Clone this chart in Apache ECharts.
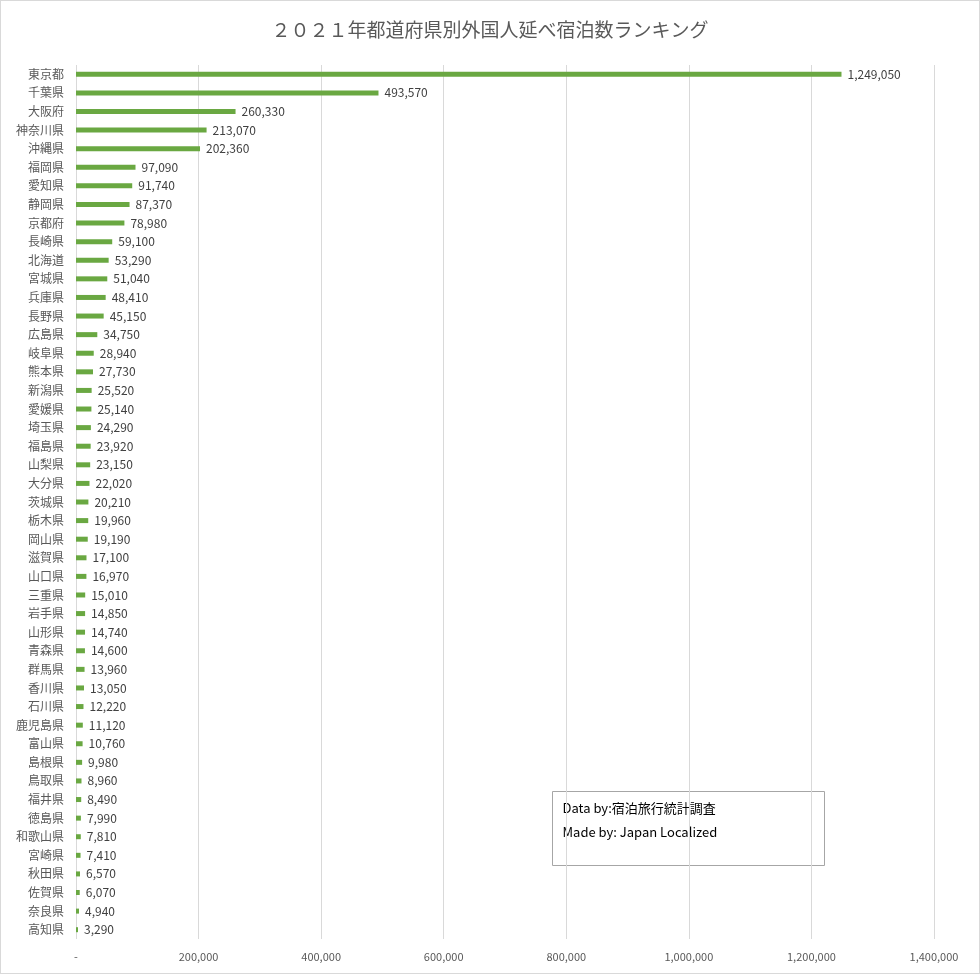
<!DOCTYPE html>
<html><head><meta charset="utf-8">
<script src="https://cdn.jsdelivr.net/npm/echarts@6/dist/echarts.min.js"></script>
<style>html,body{margin:0;padding:0;background:#fff}#c{width:980px;height:974px;box-sizing:border-box;border:1px solid #d9d9d9}</style>
</head><body><div id="c"></div>
<script>
const categories=["東京都","千葉県","大阪府","神奈川県","沖縄県","福岡県","愛知県","静岡県","京都府","長崎県","北海道","宮城県","兵庫県","長野県","広島県","岐阜県","熊本県","新潟県","愛媛県","埼玉県","福島県","山梨県","大分県","茨城県","栃木県","岡山県","滋賀県","山口県","三重県","岩手県","山形県","青森県","群馬県","香川県","石川県","鹿児島県","富山県","島根県","鳥取県","福井県","徳島県","和歌山県","宮崎県","秋田県","佐賀県","奈良県","高知県"];
const values=[1249050,493570,260330,213070,202360,97090,91740,87370,78980,59100,53290,51040,48410,45150,34750,28940,27730,25520,25140,24290,23920,23150,22020,20210,19960,19190,17100,16970,15010,14850,14740,14600,13960,13050,12220,11120,10760,9980,8960,8490,7990,7810,7410,6570,6070,4940,3290];
const titleText="２０２１年都道府県別外国人延べ宿泊数ランキング";
const noteLines=["Data by:宿泊旅行統計調査","Made by: Japan Localized"];
const font='"Noto Sans CJK JP","Noto Sans",sans-serif';
const ch=echarts.init(document.getElementById('c'));
ch.setOption({
  animation:false,
  title:{text:titleText,left:'center',top:14,textStyle:{fontFamily:font,fontSize:19,fontWeight:'normal',color:'#595959'}},
  grid:{left:75,right:45,top:64,bottom:34,containLabel:false},
  xAxis:{type:'value',min:0,max:1400000,interval:200000,
    axisLine:{show:false},axisTick:{show:false},
    splitLine:{lineStyle:{color:'#d9d9d9'}},
    axisLabel:{fontFamily:font,fontSize:11,color:'#595959',margin:12,
      formatter:v=>v===0?'-':v.toLocaleString('en-US')}},
  yAxis:{type:'category',data:categories,inverse:true,
    axisLine:{show:false},axisTick:{show:false},
    axisLabel:{fontFamily:font,fontSize:12,color:'#595959',margin:12}},
  series:[{type:'bar',data:values,barWidth:5,itemStyle:{color:'#6aa842'},
    label:{show:true,position:'right',distance:6,fontFamily:font,fontSize:12,color:'#404040',
      formatter:p=>p.value.toLocaleString('en-US')}}],
  graphic:[{type:'group',left:551,top:790,children:[
    {type:'rect',shape:{x:0,y:0,width:272,height:74},style:{fill:'#fff',stroke:'#a6a6a6',lineWidth:1}},
    {type:'text',x:10,y:10,style:{text:noteLines[0],font:'13px '+font,fill:'#000'}},
    {type:'text',x:10,y:34,style:{text:noteLines[1],font:'13px '+font,fill:'#000'}}
  ]}]
});
</script></body></html>
